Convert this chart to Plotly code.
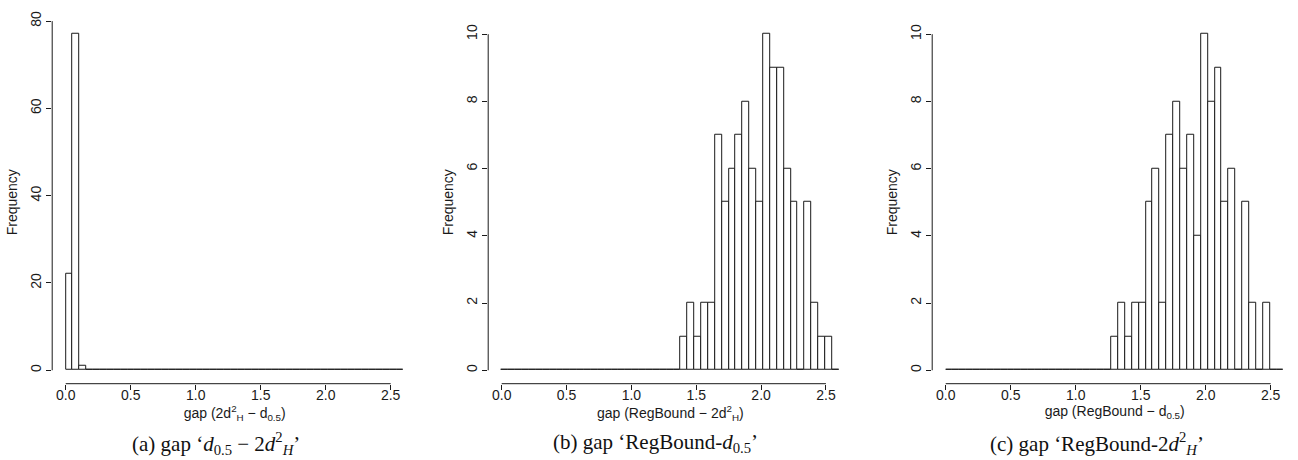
import plotly.graph_objects as go

# Histogram break points (shared by the three panels)
bin_edges = [0.0000, 0.0531, 0.1061, 0.1592, 0.2122, 0.2653, 0.3184, 0.3714, 0.4245, 0.4776,
             0.5306, 0.5837, 0.6367, 0.6898, 0.7429, 0.7959, 0.8490, 0.9020, 0.9551, 1.0082,
             1.0612, 1.1143, 1.1673, 1.2204, 1.2735, 1.3265, 1.3796, 1.4327, 1.4857, 1.5388,
             1.5918, 1.6449, 1.6980, 1.7510, 1.8041, 1.8571, 1.9102, 1.9633, 2.0163, 2.0694,
             2.1224, 2.1755, 2.2286, 2.2816, 2.3347, 2.3878, 2.4408, 2.4939, 2.5469, 2.6000]

# Frequencies per bin (49 bins)
counts_a = [22, 77, 1] + [0] * 46
counts_b = [0] * 26 + [1, 2, 1, 2, 2, 7, 5, 6, 7, 8, 6, 5, 10, 9, 9, 6, 5, 0, 5, 2, 1, 1] + [0]
counts_c = [0] * 24 + [1, 2, 1, 2, 2, 5, 6, 2, 7, 8, 6, 7, 4, 10, 8, 9, 5, 6, 0, 5, 2, 0, 2] + [0, 0]

x_ticks = [0.0, 0.5, 1.0, 1.5, 2.0, 2.5]
x_tick_labels = ["0.0", "0.5", "1.0", "1.5", "2.0", "2.5"]
y_ticks_a = [0, 20, 40, 60, 80]
y_ticks_bc = [0, 2, 4, 6, 8, 10]

x_titles = ["gap (2d<sup>2</sup><sub>H</sub> \u2212 d<sub>0.5</sub>)",
            "gap (RegBound \u2212 2d<sup>2</sup><sub>H</sub>)",
            "gap (RegBound \u2212 d<sub>0.5</sub>)"]
captions = ["(a) gap \u2018<i>d</i><sub>0.5</sub> \u2212 2<i>d</i><sup>2</sup><sub><i>H</i></sub>\u2019",
            "(b) gap \u2018RegBound-<i>d</i><sub>0.5</sub>\u2019",
            "(c) gap \u2018RegBound-2<i>d</i><sup>2</sup><sub><i>H</i></sub>\u2019"]

W, H = 1298, 460
SANS = "Liberation Sans, Arial, Helvetica, sans-serif"
SERIF = "Liberation Serif, Times New Roman, serif"
INK = "#1a1a1a"

centers = [(bin_edges[i] + bin_edges[i + 1]) / 2 for i in range(len(bin_edges) - 1)]
widths = [bin_edges[i + 1] - bin_edges[i] for i in range(len(bin_edges) - 1)]

panels = [
    dict(counts=counts_a, yticks=y_ticks_a, yrange=[-3.08, 80.08], xdom=[52.2, 417.2], cap_x=215.5),
    dict(counts=counts_b, yticks=y_ticks_bc, yrange=[-0.4, 10.4], xdom=[488.2, 852.4], cap_x=655),
    dict(counts=counts_c, yticks=y_ticks_bc, yrange=[-0.4, 10.4], xdom=[932.2, 1297.2], cap_x=1097),
]

fig = go.Figure()
layout = dict(
    width=W, height=H,
    margin=dict(l=0, r=0, t=0, b=0),
    paper_bgcolor="white", plot_bgcolor="white",
    showlegend=False, bargap=0,
    font=dict(family=SANS, size=13.5, color=INK),
)
ydom = [1 - 382 / H, 1 - 11 / H]
shapes = []
annotations = []

for i, p in enumerate(panels):
    n = "" if i == 0 else str(i + 1)
    xa, ya = "x" + n, "y" + n
    fig.add_trace(go.Bar(
        x=centers, y=p["counts"], width=widths,
        marker=dict(color="white", line=dict(color=INK, width=1)),
        xaxis=xa, yaxis=ya, hoverinfo="x+y",
    ))
    layout["xaxis" + n] = dict(
        domain=[p["xdom"][0] / W, p["xdom"][1] / W], anchor=ya,
        range=[-0.104, 2.704], showgrid=False, zeroline=False, showline=False,
        tickmode="array", tickvals=x_ticks, ticktext=x_tick_labels,
        ticks="outside", ticklen=5, tickwidth=1, tickcolor=INK,
        ticklabelstandoff=-6,
        tickfont=dict(size=14, color=INK),
        title=dict(text=x_titles[i], standoff=3, font=dict(size=14, color=INK)),
    )
    layout["yaxis" + n] = dict(
        domain=ydom, anchor=xa,
        range=p["yrange"], showgrid=False, zeroline=False, showline=False,
        tickmode="array", tickvals=p["yticks"], ticktext=[str(v) for v in p["yticks"]],
        ticks="outside", ticklen=5, tickwidth=1, tickcolor=INK, tickangle=-90,
        tickfont=dict(size=14, color=INK),
        title=dict(text="Frequency", standoff=6, font=dict(size=14, color=INK)),
    )
    # R-style axis lines spanning only the tick range
    shapes.append(dict(type="line", xref=xa, yref=ya + " domain",
                       x0=x_ticks[0], x1=x_ticks[-1], y0=0, y1=0,
                       line=dict(color=INK, width=1)))
    shapes.append(dict(type="line", xref=xa + " domain", yref=ya,
                       x0=0, x1=0, y0=p["yticks"][0], y1=p["yticks"][-1],
                       line=dict(color=INK, width=1)))
    annotations.append(dict(
        text=captions[i], xref="paper", yref="paper",
        x=p["cap_x"] / W, y=1 - 443 / H, xanchor="center", yanchor="middle",
        showarrow=False, font=dict(family=SERIF, size=21, color="#111"),
    ))

layout["shapes"] = shapes
layout["annotations"] = annotations
fig.update_layout(**layout)
fig.write_html("out.html")
